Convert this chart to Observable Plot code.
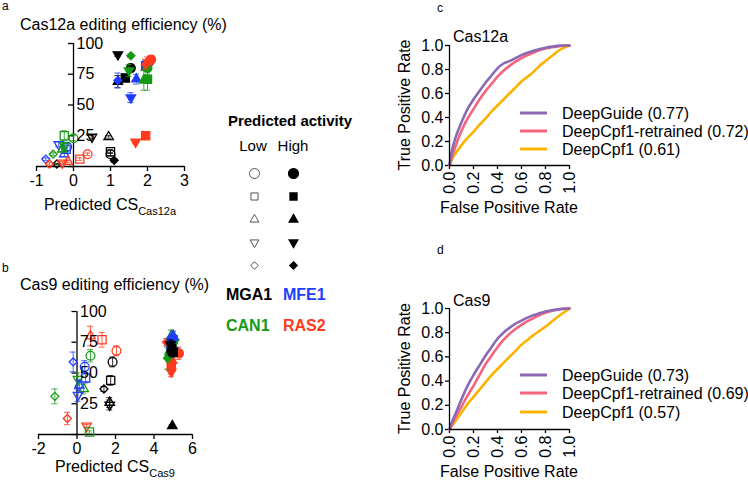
<!DOCTYPE html>
<html><head><meta charset="utf-8">
<script src="https://cdn.jsdelivr.net/npm/d3@7"></script>
<script src="https://cdn.jsdelivr.net/npm/@observablehq/plot@0.6"></script>
<style>
body{margin:0;background:#fff;font-family:"Liberation Sans",Arial,Helvetica,sans-serif;}
#fig{position:relative;width:748px;height:484px;overflow:hidden;background:#fff;}
</style></head><body><div id="fig"></div><script>
// ---------------- DATA ----------------
const genes = ["MGA1", "MFE1", "CAN1", "RAS2"];
const geneColors = ["#000000", "#1f3dff", "#169a16", "#ff3a1c"];
const activity = ["Low", "High"];
const shapes = ["circle", "square", "triangle", "triangleDown", "diamond"];

// Panel a (Cas12a) - order: gene, then Low(○□△▽◇), High(●■▲▼◆)
const cas12aX = [
  1.0, 1.0, 0.95, 0.5, -0.45,   1.55, 1.4, 1.2, 1.2, 1.1,
  -0.17, -0.2, -0.25, -0.4, -0.75,   2.05, 1.95, 1.7, 1.55, 1.2,
  0.0, -0.25, -0.3, -0.25, -0.55,   2.0, 2.0, 1.9, 1.5, 1.55,
  0.38, 0.17, -0.15, -0.3, -0.65,   2.1, 1.95, 2.0, 1.68, 1.95
];
const cas12aY = [
  10, 12, 24, 24, 2,   80, 72, 69, 91, 5,
  16, 14, 10, 18, 6,   85, 82, 71, 56, 70,
  23, 25, 14, 17, 10,   80, 71, 70, 78, 90,
  10, 6, 4, 3, 2,   87, 25, 85, 20, 83
];
const cas12aErr = [
  1.5, 1.5, 1, 1, 0.5,   3, 3, 5, 1.5, 1.5,
  3, 2, 2, 2, 1,   3, 4, 4, 4, 6,
  2, 4, 2, 2, 1,   5, 9, 8, 5, 1.5,
  1, 1, 1, 1, 1,   3, 1.5, 4, 1.5, 4
];

// Panel b (Cas9)
const cas9X = [
  1.85, 1.75, 1.7, 1.7, 1.4,   4.9, 5.0, 4.95, 4.85, 4.95,
  0.4, 0.45, 0.12, 0.05, -0.2,   4.95, 4.9, 5.0, 5.0, 4.85,
  0.7, 0.65, 0.35, 0.05, -1.15,   4.8, 5.0, 4.9, 5.05, 4.7,
  2.05, 1.3, 0.7, 0.5, -0.5,   5.3, 4.9, 4.95, 4.9, 4.65
];
const cas9Y = [
  59, 44, 26, 24, 37,   68, 67, 7, 73, 72,
  55, 46, 40, 32, 59,   78, 75, 80, 68, 70,
  64, 2, 37, 45, 31,   65, 77, 80, 75, 62,
  68, 77, 80, 7, 13,   66, 55, 60, 51, 75
];
const cas9Err = [
  4, 4, 4, 4, 2,   4, 4, 1, 4, 4,
  5, 4, 4, 5, 8,   4, 5, 4, 5, 5,
  5, 1, 4, 5, 6,   6, 7, 5, 6, 9,
  4, 6, 8, 1, 5,   5, 6, 6, 4, 3
];

// ROC curves
const rocModels = ["DeepGuide", "DeepCpf1-retrained", "DeepCpf1"];
const rocColors = ["#8a68b4", "#f5647e", "#fbb300"];
const cas12aAuc = ["0.77", "0.72", "0.61"];
const cas9Auc = ["0.73", "0.69", "0.57"];
const fprGrid = [0, 0.02, 0.05, 0.1, 0.15, 0.2, 0.25, 0.3, 0.35, 0.4, 0.45, 0.5, 0.55, 0.6, 0.65, 0.7, 0.75, 0.8, 0.85, 0.9, 0.95, 1];
const cas12aTprDeepGuide = [0, 0.12, 0.23, 0.36, 0.47, 0.55, 0.62, 0.69, 0.75, 0.81, 0.85, 0.87, 0.895, 0.92, 0.94, 0.957, 0.97, 0.982, 0.99, 0.997, 1, 1];
const cas12aTprRetrained = [0, 0.07, 0.16, 0.29, 0.39, 0.47, 0.55, 0.62, 0.68, 0.74, 0.79, 0.83, 0.865, 0.895, 0.92, 0.94, 0.96, 0.975, 0.985, 0.993, 0.998, 1];
const cas12aTprDeepCpf1 = [0, 0.05, 0.1, 0.17, 0.23, 0.28, 0.34, 0.39, 0.45, 0.5, 0.55, 0.6, 0.65, 0.7, 0.74, 0.78, 0.83, 0.87, 0.91, 0.95, 0.98, 1];
const cas9TprDeepGuide = [0, 0.06, 0.13, 0.25, 0.36, 0.45, 0.53, 0.61, 0.68, 0.75, 0.8, 0.84, 0.875, 0.9, 0.925, 0.945, 0.96, 0.975, 0.985, 0.993, 0.998, 1];
const cas9TprRetrained = [0, 0.04, 0.1, 0.19, 0.28, 0.36, 0.45, 0.54, 0.61, 0.68, 0.74, 0.79, 0.83, 0.865, 0.895, 0.92, 0.945, 0.965, 0.98, 0.99, 0.997, 1];
const cas9TprDeepCpf1 = [0, 0.03, 0.07, 0.14, 0.21, 0.27, 0.33, 0.39, 0.45, 0.5, 0.55, 0.6, 0.65, 0.7, 0.74, 0.78, 0.815, 0.85, 0.89, 0.93, 0.965, 1];

const scatterYTicks = [0, 25, 50, 75, 100];
const scatterYLabels = [25, 50, 75, 100];
const cas12aXTicks = [-1, 0, 1, 2, 3];
const cas9XTicks = [-2, 0, 2, 4, 6];
const rocTicks = [0, 0.2, 0.4, 0.6, 0.8, 1.0];

// ---------------- HELPERS ----------------
const FONT = "'Liberation Sans', Arial, Helvetica, sans-serif";
const fig = document.getElementById("fig");
function place(el, left, top) {
  el.style.position = "absolute"; el.style.left = left + "px"; el.style.top = top + "px";
  fig.appendChild(el);
}
const triangleDown = {
  draw(context, size) {
    const y = -Math.sqrt(size / (3 * Math.sqrt(3)));
    context.moveTo(0, -2 * y);
    context.lineTo(-Math.sqrt(3) * y, y);
    context.lineTo(Math.sqrt(3) * y, y);
    context.closePath();
  }
};
const symbolFor = {circle: "circle", square: "square", triangle: "triangle", triangleDown: triangleDown, diamond: "diamond2"};
const symbolR = {circle: 4.4, square: 4.6, triangle: 3.5, triangleDown: 3.5, diamond: 3.6};
const legendR = {circle: 5, square: 4.0, triangle: 3.3, triangleDown: 3.3, diamond: 3.4};

function buildRows(xs, ys, es) {
  const rows = []; let i = 0;
  genes.forEach((g, gi) => activity.forEach(a => shapes.forEach(s => {
    rows.push({gene: g, color: geneColors[gi], activity: a, shape: s, x: xs[i], y: ys[i], err: es[i]});
    i++;
  })));
  return rows;
}

function scatterPanel(rows, o) {
  const pxPerX = (o.width - o.ml - o.mr) / (o.xDomain[1] - o.xDomain[0]);
  const tick = 5 / pxPerX, cap = 3 / pxPerX;
  const marks = [
    Plot.ruleY([0], {strokeWidth: 1.3}),
    Plot.ruleX([0], {y1: 0, y2: 100, strokeWidth: 1.3}),
    Plot.ruleY(scatterYTicks, {y: d => d, x1: -tick, x2: 0, strokeWidth: 1.3}),
    Plot.axisX({ticks: o.xTicks, tickFormat: d => String(d), tickSize: 5, tickPadding: 3, fontSize: 16, label: null, strokeWidth: 1.3})
  ];
  for (const g of o.order) {
    const gr = rows.filter(d => d.gene === g);
    marks.push(
      Plot.ruleX(gr, {x: "x", y1: d => d.y - d.err, y2: d => d.y + d.err, stroke: d => d.color, strokeWidth: 1, strokeOpacity: 0.8}),
      Plot.ruleY(gr, {y: d => d.y + d.err, x1: d => d.x - cap, x2: d => d.x + cap, stroke: d => d.color, strokeWidth: 1, strokeOpacity: 0.8}),
      Plot.ruleY(gr, {y: d => d.y - d.err, x1: d => d.x - cap, x2: d => d.x + cap, stroke: d => d.color, strokeWidth: 1, strokeOpacity: 0.8})
    );
    for (const a of activity) {
      for (const s of shapes) {
        const sub = gr.filter(d => d.activity === a && d.shape === s);
        marks.push(Plot.dot(sub, {
          x: "x", y: "y", symbol: symbolFor[s], r: symbolR[s],
          stroke: d => d.color, strokeWidth: 1.3,
          fill: a === "High" ? (d => d.color) : "none"
        }));
      }
    }
  }
  marks.push(Plot.text(scatterYLabels, {x: 0, y: d => d, text: d => String(d), textAnchor: "start", dx: 3, fontSize: 16}));
  return Plot.plot({
    width: o.width, height: o.height,
    marginLeft: o.ml, marginRight: o.mr, marginTop: o.mt, marginBottom: o.mb,
    x: {domain: o.xDomain}, y: {domain: [0, 100], axis: null},
    style: {fontFamily: FONT, fontSize: "16px", overflow: "visible", background: "transparent", color: "#000"},
    marks
  });
}

function rocPanel(tprs, o) {
  const marks = [
    Plot.axisY({ticks: rocTicks, tickFormat: d3.format(".1f"), tickSize: 4, tickPadding: 2, fontSize: 16, label: null, strokeWidth: 1.3}),
    Plot.axisX({ticks: rocTicks, tickFormat: d3.format(".1f"), tickSize: 4, tickPadding: 2, tickRotate: -90, fontSize: 16, label: null, strokeWidth: 1.3}),
  ];
  [2, 1, 0].forEach(k => {
    const data = fprGrid.map((f, i) => ({fpr: f, tpr: tprs[k][i]}));
    marks.push(Plot.line(data, {x: "fpr", y: "tpr", stroke: rocColors[k], strokeWidth: 2.6, curve: "monotone-x"}));
  });
  marks.push(Plot.ruleX([0], {strokeWidth: 1.3}), Plot.ruleY([0], {strokeWidth: 1.3}));
  return Plot.plot({
    width: o.width, height: o.height,
    marginLeft: o.ml, marginRight: o.mr, marginTop: o.mt, marginBottom: o.mb,
    x: {domain: [0, 1]}, y: {domain: [0, 1]},
    style: {fontFamily: FONT, fontSize: "16px", overflow: "visible", background: "transparent", color: "#000"},
    marks
  });
}

// ---------------- PANELS ----------------
place(scatterPanel(buildRows(cas12aX, cas12aY, cas12aErr),
  {xDomain: [-1, 3], xTicks: cas12aXTicks, order: genes, width: 200, height: 185, ml: 36, mr: 16, mt: 13, mb: 49}), 0, 30);
place(scatterPanel(buildRows(cas9X, cas9Y, cas9Err),
  {xDomain: [-2, 6], xTicks: cas9XTicks, order: ["RAS2", "CAN1", "MFE1", "MGA1"], width: 210, height: 190, ml: 38, mr: 18, mt: 21, mb: 46}), 0, 290);

place(rocPanel([cas12aTprDeepGuide, cas12aTprRetrained, cas12aTprDeepCpf1],
  {width: 358, height: 200, ml: 59, mr: 179, mt: 25, mb: 55}), 390, 20);
place(rocPanel([cas9TprDeepGuide, cas9TprRetrained, cas9TprDeepCpf1],
  {width: 358, height: 200, ml: 59, mr: 179, mt: 48, mb: 31}), 390, 260);

// Shape legend (Predicted activity)
const legendRows = [];
activity.forEach(a => shapes.forEach(s => legendRows.push({activity: a, shape: s})));
const legendMarks = [];
for (const a of activity) for (const s of shapes) {
  legendMarks.push(Plot.dot(legendRows.filter(d => d.activity === a && d.shape === s), {
    x: "activity", y: "shape", symbol: symbolFor[s], r: legendR[s],
    stroke: a === "High" ? "#000" : "#555", strokeWidth: a === "High" ? 1.2 : 1,
    fill: a === "High" ? "#000" : "none"
  }));
}
place(Plot.plot({
  width: 160, height: 230, margin: 0,
  x: {type: "point", domain: activity, range: [54, 93], padding: 0, axis: null},
  y: {type: "point", domain: shapes, range: [72, 166], padding: 0, axis: null},
  style: {overflow: "visible", background: "transparent"},
  marks: legendMarks
}), 200, 100);

// ---------------- TEXT OVERLAY ----------------
const svg = d3.create("svg").attr("width", 748).attr("height", 484)
  .style("font-family", FONT).style("pointer-events", "none");
function txt(x, y, s, size, opts = {}) {
  const t = svg.append("text").attr("x", x).attr("y", y).attr("font-size", size).text(s);
  if (opts.anchor) t.attr("text-anchor", opts.anchor);
  if (opts.bold) t.attr("font-weight", "bold");
  if (opts.fill) t.attr("fill", opts.fill);
  if (opts.rotate) t.attr("transform", `rotate(${opts.rotate},${x},${y})`);
  return t;
}
function subText(cx, y, main, sub) {
  const t = svg.append("text").attr("x", cx).attr("y", y).attr("text-anchor", "middle").attr("font-size", 16);
  t.append("tspan").text(main);
  t.append("tspan").attr("font-size", 11).attr("dy", 5).text(sub);
}
txt(2, 10, "a", 12); txt(2, 272, "b", 12); txt(437, 12, "c", 12); txt(437, 254, "d", 12);
txt(20, 30, "Cas12a editing efficiency (%)", 16);
txt(20, 290, "Cas9 editing efficiency (%)", 16);
subText(110, 210, "Predicted CS", "Cas12a");
subText(115, 472, "Predicted CS", "Cas9");
txt(290, 126, "Predicted activity", 15, {anchor: "middle", bold: true});
txt(253, 151, "Low", 15, {anchor: "middle"});
txt(293, 151, "High", 15, {anchor: "middle"});
txt(226, 300, genes[0], 16, {bold: true, fill: geneColors[0]});
txt(283, 300, genes[1], 16, {bold: true, fill: geneColors[1]});
txt(226, 331, genes[2], 16, {bold: true, fill: geneColors[2]});
txt(283, 331, genes[3], 16, {bold: true, fill: geneColors[3]});
function rocText(top0, y1px, y0px, name, aucs, rows, xlabY) {
  txt(453, top0, name, 16);
  txt(410, (y1px + y0px) / 2, "True Positive Rate", 16, {anchor: "middle", rotate: -90});
  txt(509, xlabY, "False Positive Rate", 16, {anchor: "middle"});
  rows.forEach((ry, k) => {
    svg.append("line").attr("x1", 520).attr("x2", 547).attr("y1", ry).attr("y2", ry)
      .attr("stroke", rocColors[k]).attr("stroke-width", 3);
    txt(562, ry + 5.7, `${rocModels[k]} (${aucs[k]})`, 16);
  });
}
rocText(42, 45, 165, "Cas12a", cas12aAuc, [113, 131, 149], 213);
rocText(306, 308, 429, "Cas9", cas9Auc, [375, 393, 412], 477);
place(svg.node(), 0, 0);
</script></body></html>
